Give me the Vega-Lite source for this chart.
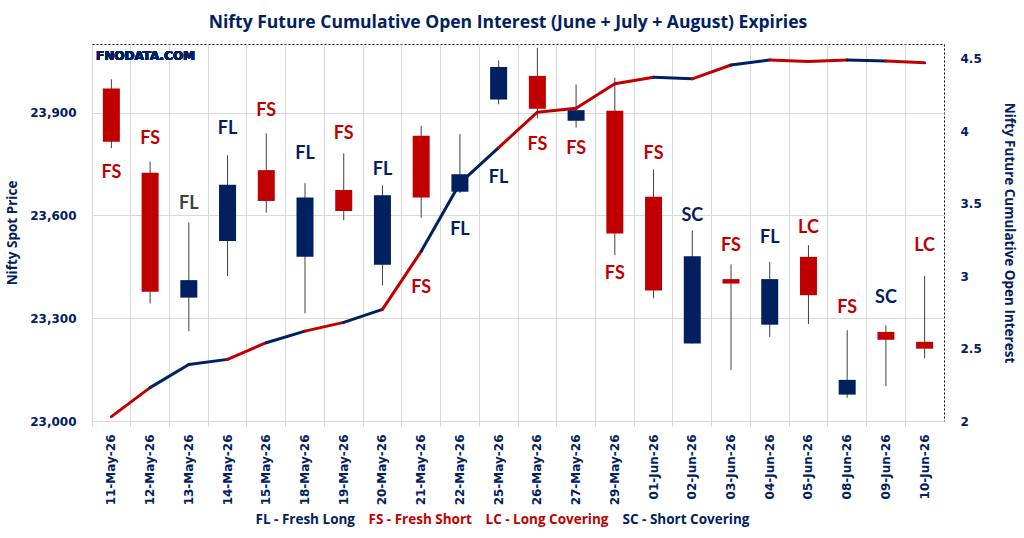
{
  "$schema": "https://vega.github.io/schema/vega-lite/v6.json",
  "width": 852,
  "height": 377,
  "autosize": {"type": "none"},
  "padding": {"left": 92, "top": 44, "right": 80, "bottom": 117},
  "background": "white",
  "title": {
    "text": "Nifty Future Cumulative Open Interest (June + July + August) Expiries",
    "font": "Open Sans",
    "fontSize": 17.5,
    "fontWeight": "bold",
    "color": "#002060",
    "anchor": "middle",
    "offset": 13,
    "dx": -10
  },
  "config": {
    "view": {"stroke": "#000000", "strokeDash": [2, 2], "strokeWidth": 1},
    "axis": {
      "labelFont": "DejaVu Sans",
      "labelFontWeight": "bold",
      "labelFontSize": 12,
      "labelColor": "#002060",
      "titleFont": "Open Sans",
      "titleFontWeight": "bold",
      "titleFontSize": 13.5,
      "titleColor": "#002060"
    }
  },
  "data": {
    "values": [
      {"date": "11-May-26", "open": 23970, "high": 23997, "low": 23796, "close": 23815, "sig": "FS", "label_price": 23724, "oi": 2.03},
      {"date": "12-May-26", "open": 23724, "high": 23757, "low": 23343, "close": 23377, "sig": "FS", "label_price": 23823, "oi": 2.23},
      {"date": "13-May-26", "open": 23360, "high": 23579, "low": 23262, "close": 23411, "sig": "FL", "label_price": 23633, "oi": 2.39},
      {"date": "14-May-26", "open": 23525, "high": 23775, "low": 23423, "close": 23689, "sig": "FL", "label_price": 23852, "oi": 2.425},
      {"date": "15-May-26", "open": 23732, "high": 23839, "low": 23608, "close": 23642, "sig": "FS", "label_price": 23905, "oi": 2.54},
      {"date": "18-May-26", "open": 23479, "high": 23694, "low": 23314, "close": 23652, "sig": "FL", "label_price": 23779, "oi": 2.62},
      {"date": "19-May-26", "open": 23674, "high": 23781, "low": 23586, "close": 23613, "sig": "FS", "label_price": 23837, "oi": 2.68},
      {"date": "20-May-26", "open": 23456, "high": 23688, "low": 23396, "close": 23659, "sig": "FL", "label_price": 23732, "oi": 2.77},
      {"date": "21-May-26", "open": 23832, "high": 23861, "low": 23593, "close": 23652, "sig": "FS", "label_price": 23388, "oi": 3.17},
      {"date": "22-May-26", "open": 23669, "high": 23837, "low": 23665, "close": 23720, "sig": "FL", "label_price": 23557, "oi": 3.64},
      {"date": "25-May-26", "open": 23938, "high": 24052, "low": 23924, "close": 24033, "sig": "FL", "label_price": 23709, "oi": 3.885},
      {"date": "26-May-26", "open": 24007, "high": 24089, "low": 23883, "close": 23911, "sig": "FS", "label_price": 23804, "oi": 4.13},
      {"date": "27-May-26", "open": 23876, "high": 23982, "low": 23856, "close": 23907, "sig": "FS", "label_price": 23794, "oi": 4.157},
      {"date": "29-May-26", "open": 23905, "high": 24002, "low": 23484, "close": 23547, "sig": "FS", "label_price": 23429, "oi": 4.326},
      {"date": "01-Jun-26", "open": 23654, "high": 23734, "low": 23358, "close": 23381, "sig": "FS", "label_price": 23779, "oi": 4.37},
      {"date": "02-Jun-26", "open": 23226, "high": 23556, "low": 23226, "close": 23481, "sig": "SC", "label_price": 23598, "oi": 4.36},
      {"date": "03-Jun-26", "open": 23414, "high": 23457, "low": 23149, "close": 23401, "sig": "FS", "label_price": 23511, "oi": 4.455},
      {"date": "04-Jun-26", "open": 23281, "high": 23464, "low": 23245, "close": 23414, "sig": "FL", "label_price": 23534, "oi": 4.49},
      {"date": "05-Jun-26", "open": 23479, "high": 23513, "low": 23283, "close": 23367, "sig": "LC", "label_price": 23563, "oi": 4.48},
      {"date": "08-Jun-26", "open": 23077, "high": 23265, "low": 23068, "close": 23120, "sig": "FS", "label_price": 23330, "oi": 4.49},
      {"date": "09-Jun-26", "open": 23260, "high": 23279, "low": 23102, "close": 23237, "sig": "SC", "label_price": 23359, "oi": 4.483},
      {"date": "10-Jun-26", "open": 23231, "high": 23423, "low": 23183, "close": 23211, "sig": "LC", "label_price": 23511, "oi": 4.47}
    ]
  },
  "encoding": {
    "x": {
      "field": "date",
      "type": "nominal",
      "sort": null,
      "scale": {"paddingInner": 0, "paddingOuter": 0},
      "axis": {
        "title": null,
        "labelAngle": -90,
        "labelPadding": 8,
        "bandPosition": 0,
        "grid": true,
        "gridColor": "#d9d9d9",
        "domainColor": "#d9d9d9",
        "tickColor": "#d9d9d9",
        "tickSize": 5
      }
    }
  },
  "layer": [
    {
      "layer": [
        {
          "mark": {"type": "rule", "color": "#404040", "strokeWidth": 1},
          "encoding": {
            "y": {
              "field": "low",
              "type": "quantitative",
              "scale": {"domain": [23000, 24100], "nice": false, "zero": false},
              "axis": {
                "title": "Nifty Spot Price",
                "values": [23000, 23300, 23600, 23900],
                "labelExpr": "format(datum.value, ',')",
                "grid": true,
                "gridColor": "#d9d9d9",
                "domain": false,
                "ticks": false,
                "labelPadding": 16,
                "titlePadding": 10
              }
            },
            "y2": {"field": "high"}
          }
        },
        {
          "mark": {"type": "bar", "size": 17},
          "encoding": {
            "y": {"field": "open", "type": "quantitative"},
            "y2": {"field": "close"},
            "color": {
              "condition": {"test": "datum.close > datum.open", "value": "#002060"},
              "value": "#C00000"
            }
          }
        },
        {
          "mark": {"type": "text", "font": "Lato", "fontSize": 18, "fontWeight": "bold", "baseline": "middle"},
          "encoding": {
            "y": {"field": "label_price", "type": "quantitative"},
            "text": {"field": "sig"},
            "color": {
              "field": "sig",
              "type": "nominal",
              "condition": {"test": "datum.date == '13-May-26'", "value": "#404040"},
              "scale": {"domain": ["FL", "FS", "LC", "SC"], "range": ["#002060", "#C00000", "#C00000", "#002060"]},
              "legend": {
                "orient": "none",
                "legendX": 150,
                "legendY": 469,
                "direction": "horizontal",
                "title": null,
                "symbolSize": 0,
                "symbolOpacity": 0,
                "symbolStrokeWidth": 0,
                "labelOffset": 0,
                "columnPadding": 0,
                "labelFont": "Open Sans",
                "labelFontSize": 13.5,
                "labelFontWeight": "bold",
                "labelExpr": "{'FL': 'FL - Fresh Long', 'FS': 'FS - Fresh Short', 'LC': 'LC - Long Covering', 'SC': 'SC - Short Covering'}[datum.value]",
                "encode": {
                  "labels": {
                    "update": {
                      "fill": {"signal": "datum.value == 'FL' || datum.value == 'SC' ? '#002060' : '#C00000'"}
                    }
                  }
                }
              }
            }
          }
        },
        {
          "mark": {"type": "text", "font": "DejaVu Sans", "fontSize": 12, "fontWeight": "bold", "color": "#002060", "align": "left", "baseline": "middle", "dx": 4},
          "encoding": {
            "x": {"datum": "11-May-26", "type": "nominal", "bandPosition": 0},
            "y": {"datum": 24065, "type": "quantitative", "axis": {"labelExpr": "format(datum.value, ',')"}},
            "text": {"value": "FNODATA.COM"}
          }
        }
      ]
    },
    {
      "transform": [
        {"window": [{"op": "lag", "field": "oi", "as": "prev_oi"}, {"op": "lag", "field": "date", "as": "prev_date"}]},
        {"filter": "datum.prev_date != null"}
      ],
      "mark": {"type": "rule", "strokeWidth": 3, "strokeCap": "round"},
      "encoding": {
        "x": {"field": "prev_date", "type": "nominal", "sort": null},
        "x2": {"field": "date"},
        "y": {
          "field": "prev_oi",
          "type": "quantitative",
          "scale": {"domain": [2, 4.6], "nice": false, "zero": false},
          "axis": {
            "orient": "right",
            "title": "Nifty Future Cumulative Open Interest",
            "values": [2, 2.5, 3, 3.5, 4, 4.5],
            "format": "~g",
            "grid": false,
            "domain": false,
            "ticks": false,
            "labelPadding": 16,
            "titlePadding": 20
          }
        },
        "y2": {"field": "oi"},
        "color": {"field": "sig", "type": "nominal"}
      }
    }
  ],
  "resolve": {"scale": {"y": "independent"}, "axis": {"y": "independent"}}
}
